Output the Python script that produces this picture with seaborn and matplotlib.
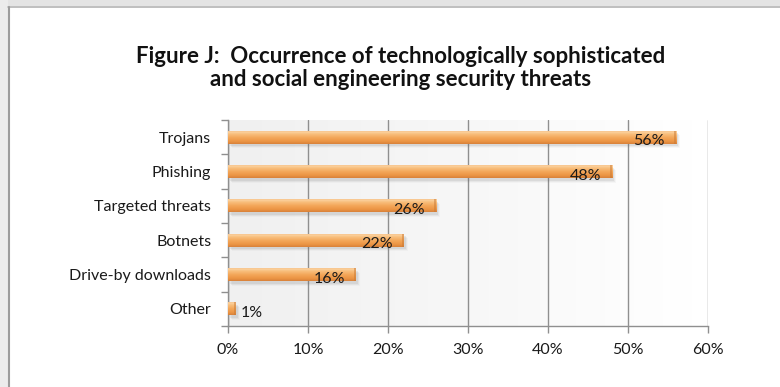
import numpy as np
import matplotlib
matplotlib.use("Agg")
import matplotlib.pyplot as plt
from matplotlib.patches import Rectangle
from matplotlib.colors import LinearSegmentedColormap
import seaborn as sns

# Survey results: share of respondents reporting each threat type
categories = ["Trojans", "Phishing", "Targeted threats", "Botnets",
              "Drive-by downloads", "Other"]
values = [56, 48, 26, 22, 16, 1]
x_ticks = [0, 10, 20, 30, 40, 50, 60]
x_tick_labels = ["0%", "10%", "20%", "30%", "40%", "50%", "60%"]
title = ("Figure J:  Occurrence of technologically sophisticated\n"
         "and social engineering security threats")

sns.set_theme(style="white")
plt.rcParams["font.family"] = ["Lato", "DejaVu Sans"]

W, H = 780, 387
fig = plt.figure(figsize=(W / 100, H / 100), dpi=100)
fig.patch.set_facecolor("white")

# Page frame: grey strips along the top and left edges
fig.add_artist(Rectangle((0, 1 - 6 / H), 1, 6 / H, transform=fig.transFigure,
                         facecolor="#e4e4e4", edgecolor="none", zorder=0))
fig.add_artist(Rectangle((0, 0), 8 / W, 1, transform=fig.transFigure,
                         facecolor="#ececec", edgecolor="none", zorder=0))
fig.add_artist(plt.Line2D([8 / W, 1], [1 - 6.5 / H, 1 - 6.5 / H],
                          transform=fig.transFigure, color="#b4b4b4", lw=1.2))
fig.add_artist(plt.Line2D([8.5 / W, 8.5 / W], [0, 1 - 6.5 / H],
                          transform=fig.transFigure, color="#9c9c9c", lw=1.5))

ax_l, ax_r = 228 / W, 708 / W
ax_t, ax_b = 1 - 120 / H, 1 - 326 / H
ax = fig.add_axes([ax_l, ax_b, ax_r - ax_l, ax_t - ax_b])

sns.barplot(x=values, y=categories, orient="h", width=0.38, ax=ax,
            color="#f3a659", saturation=1, edgecolor="none", zorder=3)

ax.set_xlim(0, 60)
ax.set_ylim(len(categories) - 0.5, -0.5)

# Plot-area fill: light grey fading to white towards the right
bg_cmap = LinearSegmentedColormap.from_list("bg", ["#f0f0f0", "#f7f7f7", "#ffffff"])
ax.imshow(np.linspace(0, 1, 256)[None, :], cmap=bg_cmap, aspect="auto",
          extent=(0, 58, len(categories) - 0.5, -0.5), zorder=0)
ax.set_facecolor("white")

# Bars with a rounded, glossy orange gradient and a soft drop shadow
bar_cmap = LinearSegmentedColormap.from_list(
    "bar", [(0.0, "#eda060"), (0.12, "#fbd3a0"), (0.3, "#f8bd7a"),
            (0.55, "#f3a659"), (0.8, "#ec9645"), (1.0, "#d9823a")])
for patch in list(ax.patches):
    x0, y0 = patch.get_x(), patch.get_y()
    w, h = patch.get_width(), patch.get_height()
    for k, a in enumerate([0.10, 0.07, 0.04]):
        ax.add_patch(Rectangle((x0 + 0.25 + 0.15 * k, y0 + 0.08 + 0.03 * k), w, h,
                               facecolor="#606060", edgecolor="none", alpha=a,
                               zorder=2))
    im = ax.imshow(np.linspace(0, 1, 64)[:, None], cmap=bar_cmap, aspect="auto",
                   extent=(x0, x0 + w, y0 + h, y0), zorder=4, origin="upper")
    im.set_clip_path(patch)
    ax.add_patch(Rectangle((x0 + w - 0.3, y0), 0.3, h, facecolor="#c97a36",
                           edgecolor="none", alpha=0.5, zorder=5))

ax.set_xlim(0, 60)
ax.set_ylim(len(categories) - 0.5, -0.5)

# Value labels
for i, v in enumerate(values):
    if v >= 5:
        ax.text(v - 1.4, i + 0.12, f"{v}%", ha="right", va="center",
                fontsize=11.5, color="#1a1a1a", zorder=6)
    else:
        ax.text(v + 0.6, i + 0.12, f"{v}%", ha="left", va="center",
                fontsize=11.5, color="#1a1a1a", zorder=6)

# Gridlines and axes
ax.set_xticks(x_ticks)
ax.set_xticklabels(x_tick_labels, fontsize=11.5, color="#1a1a1a")
ax.xaxis.grid(True, color="#8f8f8f", lw=1.0, zorder=1)
ax.set_axisbelow(True)
for side in ["top", "right"]:
    ax.spines[side].set_visible(False)
for side in ["left", "bottom"]:
    ax.spines[side].set_visible(True)
    ax.spines[side].set_color("#8f8f8f")
    ax.spines[side].set_linewidth(1.0)
ax.tick_params(axis="x", bottom=True, length=5, width=1.0, color="#8f8f8f",
               pad=7, direction="out")
ax.set_yticks(range(len(categories)))
ax.set_yticklabels(categories, fontsize=11.5, color="#1a1a1a")
ax.tick_params(axis="y", which="major", left=False, length=0, pad=12)
ax.set_yticks(np.arange(-0.5, len(categories), 1.0), minor=True)
ax.tick_params(axis="y", which="minor", left=True, length=5, width=1.0,
               color="#8f8f8f", direction="out")
ax.set_xlabel("")
ax.set_ylabel("")

fig.text(401 / W, 1 - 68 / H, title, ha="center", va="center",
         fontsize=16, fontweight="bold", color="#111111", linespacing=1.15)

fig.savefig("out.png", dpi=100, facecolor=fig.get_facecolor())
